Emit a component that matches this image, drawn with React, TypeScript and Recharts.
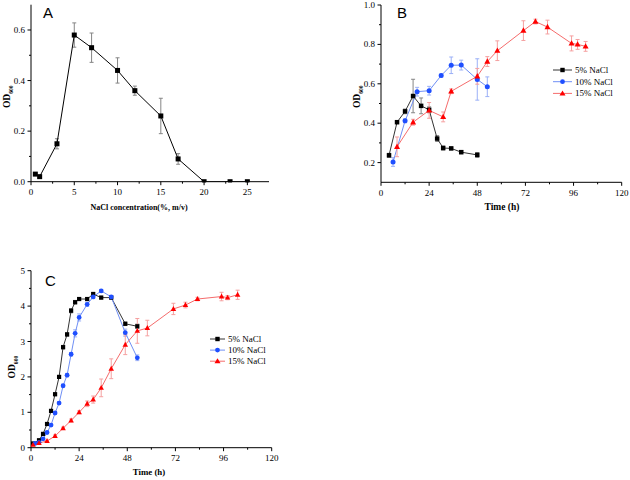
import React from 'react';
import { ComposedChart, Line, XAxis, YAxis, ErrorBar, Legend } from 'recharts';

const SERIF = "'Liberation Serif', 'Times New Roman', serif";
const SANS = "'Liberation Sans', Arial, sans-serif";

// ---------- Panel A ----------
const concA = [0.5, 1, 3, 5, 7, 10, 12, 15, 17, 20, 23, 25];
const odA = [0.03, 0.02, 0.15, 0.58, 0.53, 0.44, 0.36, 0.26, 0.09, 0.0, 0.0, 0.0];
const errA = [0.004, 0.004, 0.02, 0.048, 0.058, 0.05, 0.018, 0.07, 0.021, 0.003, 0.003, 0.003];
const xTicksA = [0, 2.5, 5, 7.5, 10, 12.5, 15, 17.5, 20, 22.5, 25];
const xMajorsA = [0, 5, 10, 15, 20, 25];
const yTicksA = [0, 0.1, 0.2, 0.3, 0.4, 0.5, 0.6];
const yMajorsA = [0, 0.2, 0.4, 0.6];

// ---------- Panel B ----------
const timeB5 = [4, 8, 12, 16, 20, 24, 28, 31, 35, 40, 48];
const odB5 = [0.237, 0.405, 0.46, 0.538, 0.488, 0.468, 0.322, 0.274, 0.272, 0.253, 0.239];
const errB5 = [0.01, 0.006, 0.012, 0.085, 0.04, 0.015, 0.015, 0.01, 0.006, 0.008, 0.012];
const timeB10 = [6, 12, 18, 24, 30, 35, 40, 48, 53];
const odB10 = [0.203, 0.412, 0.56, 0.565, 0.642, 0.694, 0.695, 0.622, 0.585];
const errB10 = [0.022, 0.01, 0.022, 0.022, 0.008, 0.042, 0.025, 0.105, 0.05];
const timeB15 = [8, 16, 24, 31, 35, 48, 53, 58, 71, 77, 83, 95, 98, 102];
const odB15 = [0.28, 0.405, 0.465, 0.432, 0.562, 0.638, 0.713, 0.768, 0.87, 0.916, 0.888, 0.805, 0.8, 0.79];
const errB15 = [0.05, 0.015, 0.04, 0.025, 0.012, 0.04, 0.025, 0.05, 0.05, 0.012, 0.035, 0.038, 0.025, 0.025];
const yTicksB = [0.2, 0.3, 0.4, 0.5, 0.6, 0.7, 0.8, 0.9, 1.0];
const yMajorsB = [0.2, 0.4, 0.6, 0.8, 1.0];

// ---------- Panel C ----------
const timeC5 = [1, 4, 6, 8, 10, 12, 14, 16, 18, 20, 22, 24, 28, 31, 35, 40, 47, 53];
const odC5 = [0.12, 0.21, 0.39, 0.67, 1.04, 1.51, 2.0, 2.84, 3.2, 3.87, 4.11, 4.2, 4.2, 4.34, 4.24, 4.24, 3.5, 3.43];
const errC5 = [0.02, 0.03, 0.03, 0.04, 0.04, 0.04, 0.04, 0.05, 0.05, 0.06, 0.05, 0.04, 0.04, 0.05, 0.04, 0.04, 0.05, 0.06];
const timeC10 = [2, 4, 6, 8, 10, 12, 14, 16, 18, 20, 22, 24, 28, 31, 35, 40, 47, 53];
const odC10 = [0.12, 0.15, 0.25, 0.43, 0.64, 0.98, 1.26, 1.75, 2.05, 2.64, 3.23, 3.68, 4.05, 4.26, 4.43, 4.26, 3.25, 2.54];
const errC10 = [0.02, 0.02, 0.03, 0.03, 0.03, 0.04, 0.04, 0.04, 0.05, 0.05, 0.1, 0.1, 0.06, 0.05, 0.04, 0.04, 0.1, 0.08];
const timeC15 = [1, 4, 8, 12, 16, 20, 24, 28, 31, 35, 40, 47, 53, 58, 71, 77, 83, 95, 98, 103];
const odC15 = [0.08, 0.13, 0.19, 0.33, 0.55, 0.77, 1.0, 1.24, 1.36, 1.69, 2.23, 2.91, 3.3, 3.38, 3.92, 4.03, 4.2, 4.27, 4.24, 4.32];
const errC15 = [0.01, 0.02, 0.02, 0.03, 0.03, 0.04, 0.04, 0.08, 0.1, 0.25, 0.28, 0.28, 0.35, 0.22, 0.16, 0.08, 0.05, 0.12, 0.06, 0.13];
const yTicksC = [0, 0.5, 1, 1.5, 2, 2.5, 3, 3.5, 4, 4.5, 5];
const yMajorsC = [0, 1, 2, 3, 4, 5];

const timeTicks = [0, 12, 24, 36, 48, 60, 72, 84, 96, 108, 120];
const timeMajors = [0, 24, 48, 72, 96, 120];
const seriesNames = ['5% NaCl', '10% NaCl', '15% NaCl'];

const rows = (xs: number[], ys: number[], es: number[]) => xs.map((x, i) => ({ x, y: ys[i], e: es[i] }));

const BLACK = { line: '#333333', mark: '#000000', err: '#858585' };
const BLUE = { line: '#6f8ff5', mark: '#1f4fff', err: '#9bb0f7' };
const RED = { line: '#f56c6c', mark: '#ff0000', err: '#f5a0a0' };

function squareDot(size: number, fill: string) {
  return (p: any) => {
    if (p.cx == null || p.cy == null) return <g key={`s${p.index}`} />;
    return <rect key={`s${p.index}`} x={p.cx - size / 2} y={p.cy - size / 2} width={size} height={size} fill={fill} />;
  };
}
function circleDot(r: number, fill: string) {
  return (p: any) => {
    if (p.cx == null || p.cy == null) return <g key={`c${p.index}`} />;
    return <circle key={`c${p.index}`} cx={p.cx} cy={p.cy} r={r} fill={fill} />;
  };
}
function triDot(s: number, fill: string) {
  return (p: any) => {
    if (p.cx == null || p.cy == null) return <g key={`t${p.index}`} />;
    const h = s * 0.9;
    return (
      <polygon
        key={`t${p.index}`}
        points={`${p.cx},${p.cy - h * 0.6} ${p.cx - s / 2},${p.cy + h * 0.4} ${p.cx + s / 2},${p.cy + h * 0.4}`}
        fill={fill}
      />
    );
  };
}

function xTick(majors: number[], axisY: number, fontSize: number) {
  return (p: any) => {
    const v = p.payload.value;
    const major = majors.includes(v);
    return (
      <g>
        <line x1={p.x} x2={p.x} y1={axisY} y2={axisY + (major ? 3.5 : 2)} stroke="#000" strokeWidth={1} />
        {major && (
          <text x={p.x} y={axisY + 13.5} textAnchor="middle" fontFamily={SERIF} fontSize={fontSize} fill="#000">
            {v}
          </text>
        )}
      </g>
    );
  };
}
function yTick(majors: number[], axisX: number, fontSize: number, fmt: (v: number) => string) {
  return (p: any) => {
    const v = p.payload.value;
    const major = majors.includes(v);
    return (
      <g>
        <line x1={axisX - (major ? 3.5 : 2)} x2={axisX} y1={p.y} y2={p.y} stroke="#000" strokeWidth={1} />
        {major && (
          <text x={axisX - 6} y={p.y + 3} textAnchor="end" fontFamily={SERIF} fontSize={fontSize} fill="#000">
            {fmt(v)}
          </text>
        )}
      </g>
    );
  };
}

function legendContent(rowGap: number, lineLen: number) {
  const styles = [
    { c: BLACK, kind: 'sq' },
    { c: BLUE, kind: 'ci' },
    { c: RED, kind: 'tr' },
  ];
  return () => (
    <svg width={80} height={40} style={{ overflow: 'visible' }}>
      {styles.map((s, i) => {
        const y = 6 + i * rowGap;
        const mx = lineLen / 2;
        return (
          <g key={i}>
            <line x1={0} x2={lineLen} y1={y} y2={y} stroke={s.c.line} strokeWidth={1} />
            {s.kind === 'sq' && <rect x={mx - 2.2} y={y - 2.2} width={4.4} height={4.4} fill={s.c.mark} />}
            {s.kind === 'ci' && <circle cx={mx} cy={y} r={2.4} fill={s.c.mark} />}
            {s.kind === 'tr' && <polygon points={`${mx},${y - 3} ${mx - 3},${y + 2} ${mx + 3},${y + 2}`} fill={s.c.mark} />}
            <text x={lineLen + 3} y={y + 3} fontFamily={SERIF} fontSize={9} fill="#000">
              {seriesNames[i]}
            </text>
          </g>
        );
      })}
    </svg>
  );
}

function OD({ x, y, size }: { x: number; y: number; size: number }) {
  return (
    <text
      transform={`translate(${x},${y}) rotate(-90)`}
      textAnchor="middle"
      fontFamily={SERIF}
      fontWeight="bold"
      fontSize={size}
      fill="#000"
    >
      OD
      <tspan fontSize={size * 0.6} dy={2.5}>
        600
      </tspan>
    </text>
  );
}

export default function App() {
  const dataA = rows(concA, odA, errA);
  const b5 = rows(timeB5, odB5, errB5);
  const b10 = rows(timeB10, odB10, errB10);
  const b15 = rows(timeB15, odB15, errB15);
  const c5 = rows(timeC5, odC5, errC5);
  const c10 = rows(timeC10, odC10, errC10);
  const c15 = rows(timeC15, odC15, errC15);

  const axisLine = { stroke: '#000', strokeWidth: 1 };

  return (
    <div style={{ position: 'absolute', left: 0, top: 0, width: 630, height: 480, background: '#fff', overflow: 'hidden' }}>
      {/* Panel A */}
      <div style={{ position: 'absolute', left: 0, top: 0 }}>
        <ComposedChart width={300} height={230} margin={{ top: 4.7, right: 31, bottom: 18.3, left: 0 }}>
          <XAxis
            dataKey="x"
            type="number"
            domain={[0, 27.5]}
            ticks={xTicksA}
            interval={0}
            allowDataOverflow
            height={30}
            tickLine={false}
            tickSize={0}
            tickMargin={0}
            axisLine={axisLine}
            tick={xTick(xMajorsA, 181.7, 9)}
          />
          <YAxis
            type="number"
            domain={[0, 0.7]}
            ticks={yTicksA}
            interval={0}
            allowDataOverflow
            width={31}
            tickLine={false}
            tickSize={0}
            tickMargin={0}
            axisLine={axisLine}
            tick={yTick(yMajorsA, 31, 9, (v) => v.toFixed(1))}
          />
          <Line data={dataA} dataKey="y" stroke="#000" strokeWidth={1} dot={squareDot(5, '#000')} activeDot={false} isAnimationActive={false}>
            <ErrorBar dataKey="e" width={2} stroke="#858585" strokeWidth={1} direction="y" />
          </Line>
        </ComposedChart>
      </div>

      {/* Panel B */}
      <div style={{ position: 'absolute', left: 310, top: 0 }}>
        <ComposedChart width={320} height={230} margin={{ top: 5, right: 8.3, bottom: 17.7, left: 0 }}>
          <XAxis
            dataKey="x"
            type="number"
            domain={[0, 120]}
            ticks={timeTicks}
            interval={0}
            allowDataOverflow
            height={30}
            tickLine={false}
            tickSize={0}
            tickMargin={0}
            axisLine={axisLine}
            tick={xTick(timeMajors, 182.3, 9)}
          />
          <YAxis
            type="number"
            domain={[0.1, 1.0]}
            ticks={yTicksB}
            interval={0}
            allowDataOverflow
            width={71}
            tickLine={false}
            tickSize={0}
            tickMargin={0}
            axisLine={axisLine}
            tick={yTick(yMajorsB, 71, 9, (v) => v.toFixed(1))}
          />
          <Legend
            layout="vertical"
            align="center"
            verticalAlign="middle"
            content={legendContent(11.7, 19)}
            wrapperStyle={{ position: 'absolute', left: 243, top: 64, width: 80, height: 40 }}
          />
          <Line data={b5} dataKey="y" name={seriesNames[0]} stroke={BLACK.line} strokeWidth={1} dot={squareDot(4.5, BLACK.mark)} activeDot={false} isAnimationActive={false}>
            <ErrorBar dataKey="e" width={2} stroke={BLACK.err} strokeWidth={1} direction="y" />
          </Line>
          <Line data={b10} dataKey="y" name={seriesNames[1]} stroke={BLUE.line} strokeWidth={1} dot={circleDot(2.5, BLUE.mark)} activeDot={false} isAnimationActive={false}>
            <ErrorBar dataKey="e" width={2} stroke={BLUE.err} strokeWidth={1} direction="y" />
          </Line>
          <Line data={b15} dataKey="y" name={seriesNames[2]} stroke={RED.line} strokeWidth={1} dot={triDot(6, RED.mark)} activeDot={false} isAnimationActive={false}>
            <ErrorBar dataKey="e" width={2} stroke={RED.err} strokeWidth={1} direction="y" />
          </Line>
        </ComposedChart>
      </div>

      {/* Panel C */}
      <div style={{ position: 'absolute', left: 0, top: 240 }}>
        <ComposedChart width={310} height={240} margin={{ top: 30.7, right: 38.3, bottom: 2.3, left: 0 }}>
          <XAxis
            dataKey="x"
            type="number"
            domain={[0, 120]}
            ticks={timeTicks}
            interval={0}
            allowDataOverflow
            height={30}
            tickLine={false}
            tickSize={0}
            tickMargin={0}
            axisLine={axisLine}
            tick={xTick(timeMajors, 207.7, 9)}
          />
          <YAxis
            type="number"
            domain={[0, 5]}
            ticks={yTicksC}
            interval={0}
            allowDataOverflow
            width={31}
            tickLine={false}
            tickSize={0}
            tickMargin={0}
            axisLine={axisLine}
            tick={yTick(yMajorsC, 31, 9, (v) => String(v))}
          />
          <Legend
            layout="vertical"
            align="center"
            verticalAlign="middle"
            content={legendContent(11.1, 15)}
            wrapperStyle={{ position: 'absolute', left: 210, top: 93, width: 80, height: 40 }}
          />
          <Line data={c5} dataKey="y" name={seriesNames[0]} stroke={BLACK.line} strokeWidth={1} dot={squareDot(4.2, BLACK.mark)} activeDot={false} isAnimationActive={false}>
            <ErrorBar dataKey="e" width={2} stroke={BLACK.err} strokeWidth={1} direction="y" />
          </Line>
          <Line data={c10} dataKey="y" name={seriesNames[1]} stroke={BLUE.line} strokeWidth={1} dot={circleDot(2.4, BLUE.mark)} activeDot={false} isAnimationActive={false}>
            <ErrorBar dataKey="e" width={2} stroke={BLUE.err} strokeWidth={1} direction="y" />
          </Line>
          <Line data={c15} dataKey="y" name={seriesNames[2]} stroke={RED.line} strokeWidth={1} dot={triDot(5.5, RED.mark)} activeDot={false} isAnimationActive={false}>
            <ErrorBar dataKey="e" width={2} stroke={RED.err} strokeWidth={1} direction="y" />
          </Line>
        </ComposedChart>
      </div>

      {/* Overlay: panel letters and axis titles */}
      <svg width={630} height={480} style={{ position: 'absolute', left: 0, top: 0, pointerEvents: 'none' }}>
        <text x={43} y={17.5} fontFamily={SANS} fontSize={15} fill="#000">A</text>
        <text x={397} y={17.5} fontFamily={SANS} fontSize={15} fill="#000">B</text>
        <text x={45} y={285.5} fontFamily={SANS} fontSize={15} fill="#000">C</text>

        <text x={139} y={210} textAnchor="middle" fontFamily={SERIF} fontWeight="bold" fontSize={8} fill="#000">
          NaCl concentration(%, m/v)
        </text>
        <text x={502} y={210} textAnchor="middle" fontFamily={SERIF} fontWeight="bold" fontSize={9.5} fill="#000">
          Time (h)
        </text>
        <text x={149} y={475} textAnchor="middle" fontFamily={SERIF} fontWeight="bold" fontSize={8.8} fill="#000">
          Time (h)
        </text>

        <OD x={10} y={96.7} size={9.5} />
        <OD x={360} y={96.7} size={9.5} />
        <OD x={15} y={367} size={9.5} />
      </svg>
    </div>
  );
}
